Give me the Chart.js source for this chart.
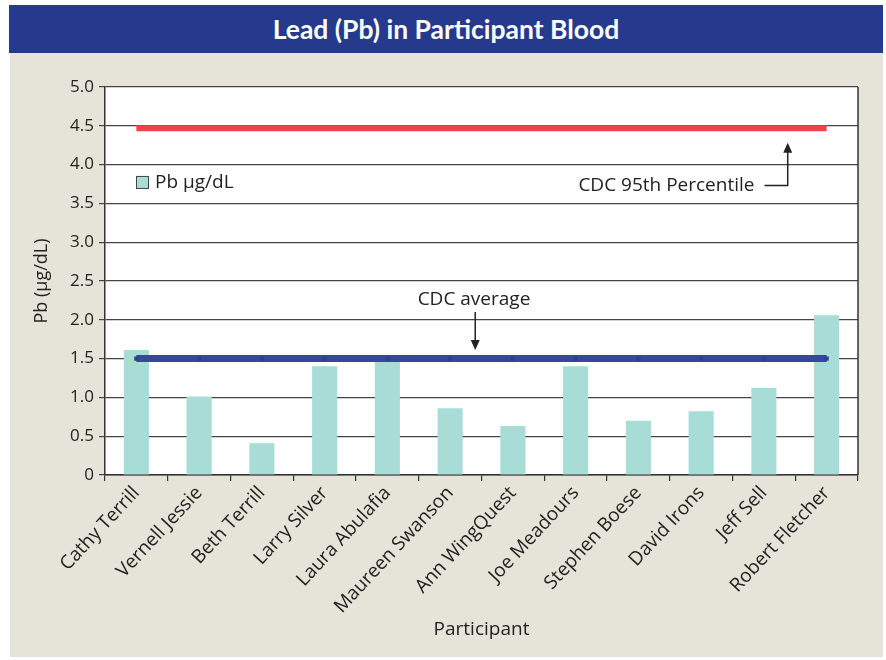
<!DOCTYPE html>
<html>
<head>
<meta charset="utf-8">
<script src="https://cdn.jsdelivr.net/npm/chart.js@4.4.1/dist/chart.umd.min.js"></script>
<style>
  body { margin: 0; background: #fff; width: 886px; height: 660px; position: relative; overflow: hidden; }
  #title {
    position: absolute; left: 9px; top: 5px; width: 874px; height: 48px;
    background: #253a8c; color: #fff;
    display: flex; align-items: center; justify-content: center;
    font: bold 26.5px Lato, "Open Sans", sans-serif;
  }
  #wrap { position: absolute; left: 10px; top: 53px; width: 873px; height: 604px; background: #e6e4d8; }
</style>
</head>
<body>
<div id="title">Lead (Pb) in Participant Blood</div>
<div id="wrap"><canvas id="leadChart"></canvas></div>
<script>
// participants and measured blood lead (µg/dL)
const participants = ['Cathy Terrill', 'Vernell Jessie', 'Beth Terrill', 'Larry Silver', 'Laura Abulafia',
  'Maureen Swanson', 'Ann WingQuest', 'Joe Meadours', 'Stephen Boese', 'David Irons', 'Jeff Sell', 'Robert Fletcher'];
const pbValues = [1.61, 1.01, 0.41, 1.40, 1.48, 0.86, 0.63, 1.40, 0.70, 0.82, 1.12, 2.06];
const cdcAverage = 1.5;
const cdc95th = 4.47;
const yTicks = [0, 0.5, 1.0, 1.5, 2.0, 2.5, 3.0, 3.5, 4.0, 4.5, 5.0];

const FONT = '"Open Sans", sans-serif';
const INK = '#222';

// plot frame + callout arrows + inside legend
const extras = {
  id: 'extras',
  beforeDraw(chart) {
    const { ctx, chartArea: a } = chart;
    ctx.save();
    ctx.fillStyle = '#fff';
    ctx.fillRect(a.left, a.top, a.right - a.left, a.bottom - a.top);
    ctx.restore();
  },
  afterDraw(chart) {
    const { ctx, chartArea: a, scales: { x, y } } = chart;
    ctx.save();
    ctx.strokeStyle = '#333';
    ctx.lineWidth = 1.5;
    ctx.beginPath();
    ctx.moveTo(a.right, a.top);
    ctx.lineTo(a.right, a.bottom);
    ctx.stroke();

    ctx.fillStyle = INK;
    ctx.strokeStyle = INK;
    ctx.lineWidth = 1.5;
    ctx.font = '19px ' + FONT;
    ctx.textBaseline = 'middle';

    // CDC average
    ctx.textAlign = 'center';
    ctx.fillText('CDC average', x.getPixelForValue(5.38), y.getPixelForValue(2.26));
    let ax = x.getPixelForValue(5.40);
    let tip = y.getPixelForValue(1.61);
    ctx.beginPath();
    ctx.moveTo(ax, y.getPixelForValue(2.10));
    ctx.lineTo(ax, tip - 8);
    ctx.stroke();
    ctx.beginPath();
    ctx.moveTo(ax, tip); ctx.lineTo(ax - 4.5, tip - 10); ctx.lineTo(ax + 4.5, tip - 10);
    ctx.closePath(); ctx.fill();

    // CDC 95th percentile
    ctx.textAlign = 'right';
    const ty = y.getPixelForValue(3.73);
    ctx.fillText('CDC 95th Percentile', x.getPixelForValue(9.85), ty);
    ax = x.getPixelForValue(10.38);
    tip = y.getPixelForValue(4.28);
    ctx.beginPath();
    ctx.moveTo(x.getPixelForValue(10.01), ty);
    ctx.lineTo(ax, ty);
    ctx.lineTo(ax, tip + 8);
    ctx.stroke();
    ctx.beginPath();
    ctx.moveTo(ax, tip); ctx.lineTo(ax - 4.5, tip + 10); ctx.lineTo(ax + 4.5, tip + 10);
    ctx.closePath(); ctx.fill();

    // legend inside plot
    const lx = a.left + 31, ly = y.getPixelForValue(3.77);
    ctx.fillStyle = '#a8dcd7';
    ctx.fillRect(lx, ly - 6.5, 13, 13);
    ctx.lineWidth = 1;
    ctx.strokeStyle = '#444';
    ctx.strokeRect(lx + 0.5, ly - 6, 12, 12);
    ctx.fillStyle = INK;
    ctx.textAlign = 'left';
    ctx.fillText(chart.data.datasets[0].label, lx + 19, ly);
    ctx.restore();
  }
};

new Chart(document.getElementById('leadChart'), {
  type: 'bar',
  data: {
    labels: participants,
    datasets: [
      {
        label: 'Pb µg/dL',
        data: pbValues,
        backgroundColor: '#a8dcd7',
        categoryPercentage: 1,
        barPercentage: 0.4,
        order: 2
      },
      {
        type: 'line',
        label: 'CDC average',
        data: participants.map(() => cdcAverage),
        borderColor: '#36479c',
        borderWidth: 7,
        pointStyle: 'rect',
        pointRadius: 3,
        pointBorderWidth: 0,
        pointBackgroundColor: '#2f3f8f',
        order: 0
      },
      {
        type: 'line',
        label: 'CDC 95th Percentile',
        data: participants.map(() => cdc95th),
        borderColor: '#ee4348',
        borderWidth: 6,
        pointRadius: 0,
        order: 1
      }
    ]
  },
  options: {
    responsive: true,
    maintainAspectRatio: false,
    animation: false,
    layout: { padding: { top: 34, right: 25, left: 0, bottom: 0 } },
    plugins: {
      legend: { display: false },
      tooltip: { enabled: false }
    },
    scales: {
      x: {
        afterFit(s) { s.height = 182; },
        grid: { drawOnChartArea: false, drawTicks: true, tickLength: 6, color: '#333', lineWidth: 1.2 },
        border: { display: true, color: '#333', width: 1.5 },
        ticks: {
          color: INK, font: { family: FONT, size: 19 },
          minRotation: 47, maxRotation: 47, padding: 1, autoSkip: false
        },
        title: {
          display: true, text: 'Participant', color: INK,
          font: { family: FONT, size: 19 }, padding: { top: 4, bottom: 16 }
        }
      },
      y: {
        min: 0, max: 5,
        afterFit(s) { s.width = 95; },
        afterBuildTicks(s) { s.ticks = yTicks.map(v => ({ value: v })); },
        grid: { color: '#444', lineWidth: 1.2, tickLength: 6 },
        border: { display: true, color: '#333', width: 1.5 },
        ticks: {
          color: INK, font: { family: FONT, size: 17 }, padding: 5,
          callback: v => v === 0 ? '0' : v.toFixed(1)
        },
        title: {
          display: true, text: 'Pb (µg/dL)', color: INK,
          font: { family: FONT, size: 18 }, padding: { top: 21, bottom: 0 }
        }
      }
    }
  },
  plugins: [extras]
});
</script>
</body>
</html>
